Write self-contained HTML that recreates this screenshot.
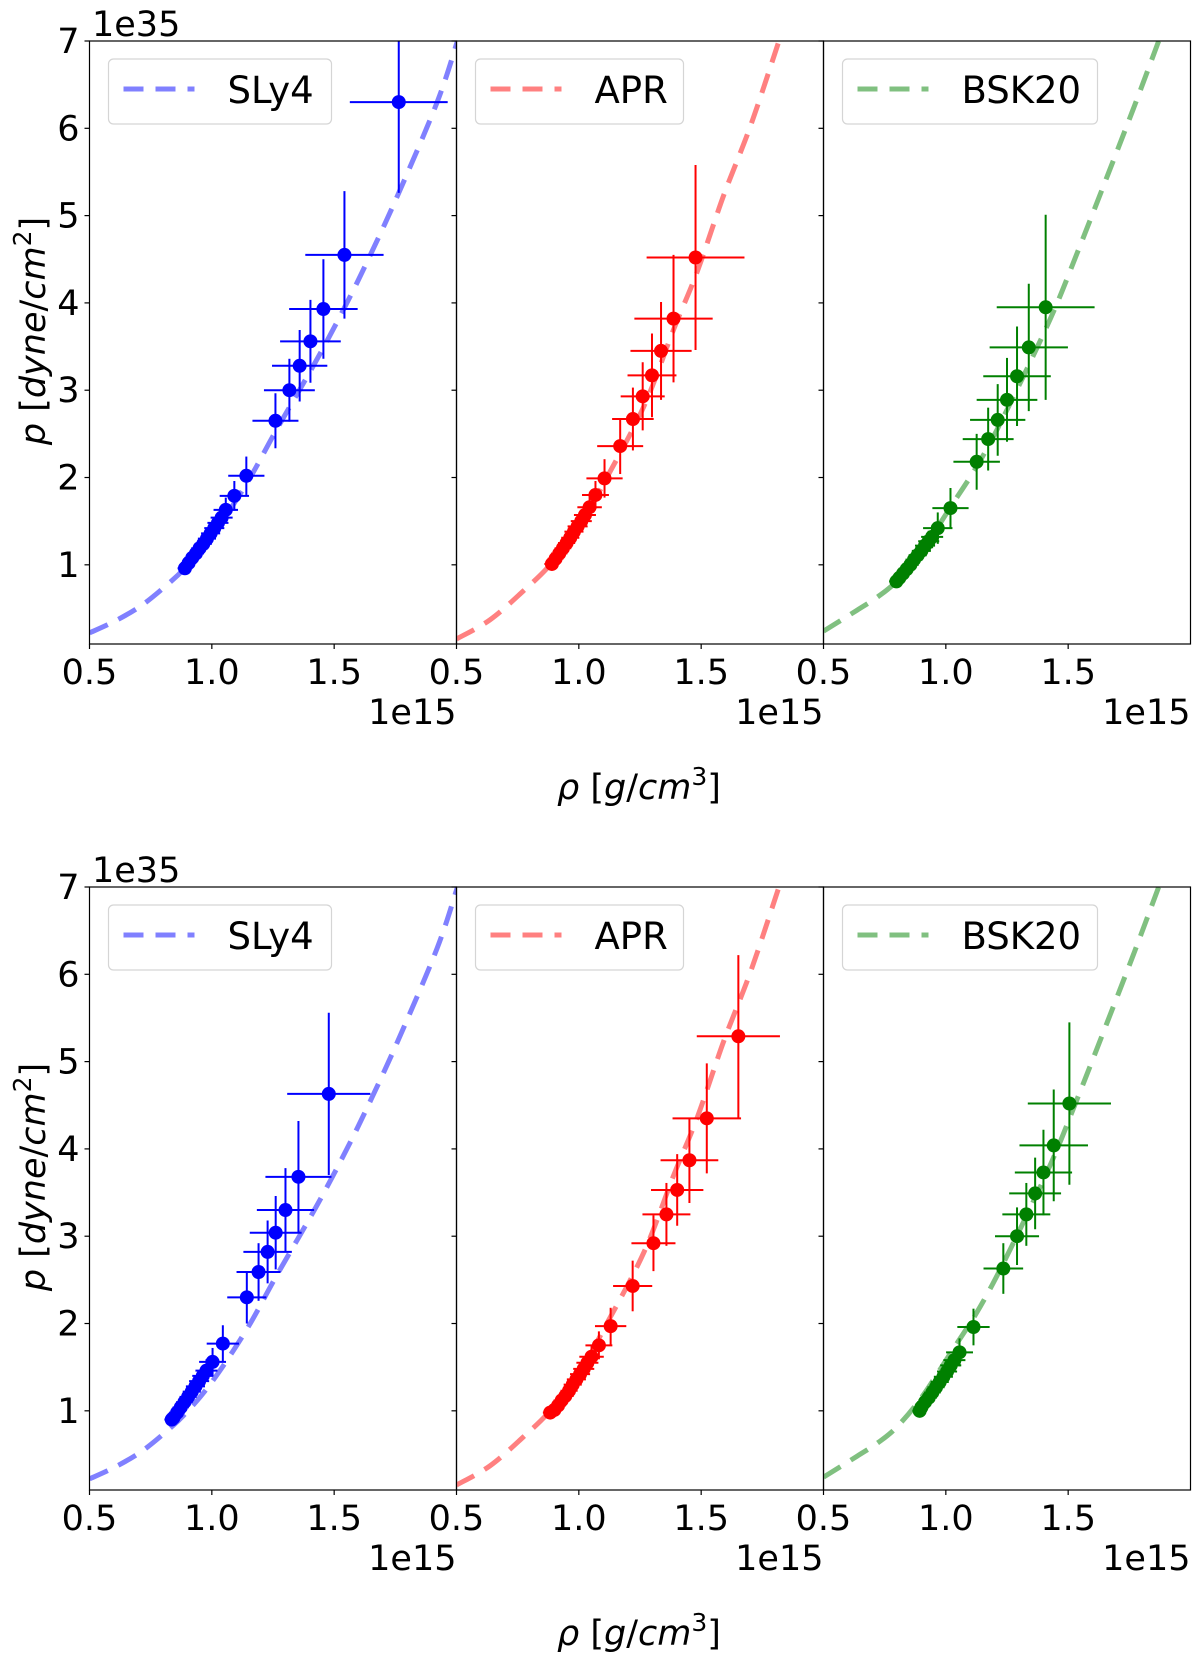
<!DOCTYPE html>
<html><head><meta charset="utf-8"><style>
html,body{margin:0;padding:0;background:#fff;}
svg{display:block;font-family:"DejaVu Sans","Liberation Sans",sans-serif;}
</style></head><body>
<svg id="chart" width="1200" height="1665" viewBox="0 0 1200 1665" xmlns="http://www.w3.org/2000/svg"></svg>
<script>
// ---- data ----
const xTicks = [0.5, 1.0, 1.5];
const xTickLabels = ["0.5", "1.0", "1.5"];
const yTicks = [1, 2, 3, 4, 5, 6, 7];
const yTickLabels = ["1", "2", "3", "4", "5", "6", "7"];
const eosNames = ["SLy4", "APR", "BSK20"];

const sly4CurveRho = [0.5,0.6,0.705,0.8,0.889,1.0,1.142,1.265,1.429,1.552,1.648,1.764,1.921,2.004];
const sly4CurveP   = [0.22,0.35,0.52,0.73,0.96,1.33,1.93,2.55,3.35,4.0,4.55,5.26,6.30,7.0];
const aprCurveRho  = [0.5,0.637,0.773,0.883,1.0,1.101,1.265,1.388,1.484,1.593,1.702,1.818];
const aprCurveP    = [0.15,0.37,0.70,1.0,1.42,1.93,2.81,3.70,4.36,5.24,6.03,7.0];
const bskCurveRho  = [0.5,0.637,0.72,0.798,0.9,1.019,1.142,1.265,1.429,1.538,1.661,1.770,1.870];
const bskCurveP    = [0.24,0.48,0.63,0.81,1.15,1.66,2.2,2.86,3.83,4.58,5.46,6.25,7.0];

const topSlyRho  = [1.764,1.542,1.456,1.403,1.359,1.317,1.260,1.141,1.092,1.057,1.040,1.025,1.010,0.995,0.980,0.965,0.950,0.935,0.920,0.905,0.890];
const topSlyP    = [6.30,4.55,3.93,3.56,3.28,3.00,2.65,2.02,1.79,1.63,1.54,1.48,1.42,1.36,1.30,1.24,1.19,1.13,1.08,1.02,0.96];
const topSlyXerr = [0.20,0.16,0.14,0.124,0.113,0.104,0.094,0.074,0.06,0.05,0.045,0.043,0.041,0.039,0.037,0.035,0.034,0.033,0.032,0.031,0.030];
const topSlyYerr = [1.04,0.73,0.57,0.475,0.41,0.36,0.315,0.22,0.17,0.14,0.13,0.12,0.115,0.11,0.105,0.10,0.095,0.09,0.085,0.08,0.075];

const topAprRho  = [1.477,1.387,1.336,1.299,1.261,1.221,1.169,1.105,1.068,1.044,1.025,1.010,0.995,0.980,0.965,0.950,0.935,0.920,0.905,0.890];
const topAprP    = [4.52,3.82,3.45,3.17,2.93,2.67,2.36,1.99,1.80,1.66,1.57,1.50,1.44,1.38,1.31,1.25,1.19,1.13,1.07,1.01];
const topAprXerr = [0.20,0.16,0.125,0.10,0.09,0.085,0.094,0.074,0.055,0.05,0.045,0.043,0.041,0.039,0.037,0.035,0.034,0.033,0.032,0.031];
const topAprYerr = [1.06,0.73,0.56,0.48,0.39,0.36,0.32,0.22,0.16,0.13,0.12,0.115,0.11,0.105,0.10,0.095,0.09,0.085,0.08,0.075];

const topBskRho  = [1.408,1.339,1.291,1.250,1.212,1.173,1.126,1.019,0.967,0.944,0.930,0.915,0.900,0.885,0.870,0.855,0.840,0.825,0.810,0.798];
const topBskP    = [3.95,3.49,3.16,2.89,2.66,2.44,2.18,1.65,1.42,1.32,1.27,1.22,1.16,1.11,1.06,1.00,0.95,0.90,0.85,0.81];
const topBskXerr = [0.20,0.16,0.138,0.124,0.113,0.104,0.095,0.074,0.06,0.045,0.043,0.041,0.039,0.037,0.035,0.034,0.033,0.032,0.031,0.030];
const topBskYerr = [1.06,0.73,0.57,0.48,0.41,0.36,0.32,0.23,0.18,0.13,0.12,0.115,0.11,0.105,0.10,0.095,0.09,0.085,0.08,0.075];

const botSlyRho  = [1.478,1.354,1.301,1.261,1.228,1.191,1.143,1.045,1.003,0.978,0.963,0.948,0.933,0.918,0.903,0.888,0.873,0.858,0.843,0.836];
const botSlyP    = [4.63,3.68,3.30,3.04,2.82,2.59,2.30,1.77,1.56,1.46,1.40,1.34,1.28,1.22,1.16,1.10,1.04,0.98,0.92,0.90];
const botSlyXerr = [0.17,0.135,0.117,0.106,0.099,0.09,0.08,0.066,0.055,0.045,0.043,0.041,0.039,0.037,0.035,0.034,0.033,0.032,0.031,0.030];
const botSlyYerr = [0.93,0.64,0.48,0.42,0.36,0.33,0.30,0.21,0.16,0.13,0.12,0.115,0.11,0.105,0.10,0.095,0.09,0.085,0.08,0.075];

const botAprRho  = [1.652,1.523,1.452,1.402,1.358,1.305,1.220,1.130,1.082,1.052,1.035,1.020,1.005,0.990,0.975,0.960,0.945,0.930,0.915,0.900,0.883];
const botAprP    = [5.29,4.35,3.87,3.53,3.25,2.92,2.43,1.97,1.75,1.62,1.55,1.48,1.42,1.36,1.30,1.23,1.17,1.12,1.06,1.01,0.98];
const botAprXerr = [0.17,0.14,0.118,0.107,0.098,0.09,0.08,0.064,0.055,0.05,0.045,0.043,0.041,0.039,0.037,0.035,0.034,0.033,0.032,0.031,0.030];
const botAprYerr = [0.93,0.63,0.49,0.41,0.36,0.32,0.29,0.21,0.16,0.14,0.12,0.115,0.11,0.105,0.10,0.095,0.09,0.085,0.08,0.075,0.07];

const botBskRho  = [1.505,1.441,1.399,1.365,1.329,1.291,1.235,1.113,1.056,1.035,1.020,1.005,0.990,0.975,0.960,0.945,0.930,0.915,0.900,0.893];
const botBskP    = [4.52,4.04,3.73,3.49,3.25,3.00,2.63,1.96,1.67,1.58,1.52,1.45,1.39,1.33,1.27,1.21,1.15,1.10,1.04,1.00];
const botBskXerr = [0.17,0.14,0.117,0.106,0.098,0.09,0.081,0.066,0.055,0.045,0.043,0.041,0.039,0.037,0.035,0.034,0.033,0.032,0.031,0.030];
const botBskYerr = [0.93,0.64,0.49,0.41,0.36,0.33,0.29,0.21,0.16,0.13,0.12,0.115,0.11,0.105,0.10,0.095,0.09,0.085,0.08,0.075];

// ---- layout ----
const NS = "http://www.w3.org/2000/svg";
const svg = document.getElementById("chart");
const PANEL_LEFT = [89.5, 456.5, 823.5];
const ROW_TOP = [41, 887];
const PW = 367, PH = 603;
const XMIN = 0.5, XMAX = 2.0, YMIN = 0.093, YMAX = 7;
const curveColors = ["#8080ff", "#ff8080", "#80c080"];
const pointColors = ["#0000ff", "#ff0000", "#008000"];

function mk(tag, attrs, parent) {
  const e = document.createElementNS(NS, tag);
  for (const k in attrs) e.setAttribute(k, attrs[k]);
  (parent || svg).appendChild(e);
  return e;
}
function xScale(col, v) { return PANEL_LEFT[col] + (v - XMIN) / (XMAX - XMIN) * PW; }
function yScale(row, v) { return ROW_TOP[row] + (YMAX - v) / (YMAX - YMIN) * PH; }
function smoothPath(pts) {
  let d = "M" + pts[0][0] + "," + pts[0][1];
  for (let i = 0; i < pts.length - 1; i++) {
    const p0 = pts[i - 1] || pts[i], p1 = pts[i], p2 = pts[i + 1], p3 = pts[i + 2] || p2;
    const c1x = p1[0] + (p2[0] - p0[0]) / 6, c1y = p1[1] + (p2[1] - p0[1]) / 6;
    const c2x = p2[0] - (p3[0] - p1[0]) / 6, c2y = p2[1] - (p3[1] - p1[1]) / 6;
    d += " C" + c1x + "," + c1y + " " + c2x + "," + c2y + " " + p2[0] + "," + p2[1];
  }
  return d;
}

const curves = [[sly4CurveRho, sly4CurveP], [aprCurveRho, aprCurveP], [bskCurveRho, bskCurveP]];
const pointSets = [
  [[topSlyRho, topSlyP, topSlyXerr, topSlyYerr], [topAprRho, topAprP, topAprXerr, topAprYerr], [topBskRho, topBskP, topBskXerr, topBskYerr]],
  [[botSlyRho, botSlyP, botSlyXerr, botSlyYerr], [botAprRho, botAprP, botAprXerr, botAprYerr], [botBskRho, botBskP, botBskXerr, botBskYerr]]
];

const defs = mk("defs", {});
for (let row = 0; row < 2; row++) {
  for (let col = 0; col < 3; col++) {
    const L = PANEL_LEFT[col], T = ROW_TOP[row];
    const cid = "clip" + row + col;
    const cp = mk("clipPath", { id: cid }, defs);
    mk("rect", { x: L, y: T, width: PW, height: PH }, cp);

    const g = mk("g", {});
    
    

    const plot = mk("g", { "clip-path": "url(#" + cid + ")" }, g);
    const cr = curves[col][0], cpv = curves[col][1];
    const pts = cr.map((r, i) => [xScale(col, r), yScale(row, cpv[i])]);
    const path = mk("path", { d: smoothPath(pts), fill: "none", stroke: curveColors[col], "stroke-width": 5, "stroke-dasharray": "20 12" }, plot);
    
    

    const ds = pointSets[row][col];
    for (let i = 0; i < ds[0].length; i++) {
      const cx = xScale(col, ds[0][i]), cy = yScale(row, ds[1][i]);
      const eb = mk("g", { stroke: pointColors[col], "stroke-width": 2 }, plot);
      
      
      mk("line", { x1: xScale(col, ds[0][i] - ds[2][i]), x2: xScale(col, ds[0][i] + ds[2][i]), y1: cy, y2: cy }, eb);
      mk("line", { x1: cx, x2: cx, y1: yScale(row, ds[1][i] - ds[3][i]), y2: yScale(row, ds[1][i] + ds[3][i]) }, eb);
    }
    for (let i = 0; i < ds[0].length; i++) {
      const c = mk("circle", { cx: xScale(col, ds[0][i]), cy: yScale(row, ds[1][i]), r: 7, fill: pointColors[col] }, plot);
      
      
    }

    const fr = mk("rect", { x: L, y: T, width: PW, height: PH, fill: "none", stroke: "#000", "stroke-width": 1.2 }, g);
    
    

    yTicks.forEach((v, i) => {
      const yy = yScale(row, v);
      mk("line", { x1: L - 5, x2: L, y1: yy, y2: yy, stroke: "#000", "stroke-width": 1.2 }, g);
      if (col === 0) {
        const t = mk("text", { x: L - 10, y: yy + 12, "text-anchor": "end", "font-size": 35 }, g);
        t.textContent = yTickLabels[i];
        
        
      }
    });
    xTicks.forEach((v, i) => {
      const xx = xScale(col, v);
      mk("line", { x1: xx, x2: xx, y1: T + PH, y2: T + PH + 5, stroke: "#000", "stroke-width": 1.2 }, g);
      const t = mk("text", { x: xx, y: T + PH + 40, "text-anchor": "middle", "font-size": 35 }, g);
      t.textContent = xTickLabels[i];
      
      
    });
    const off = mk("text", { x: L + PW, y: T + PH + 80, "text-anchor": "end", "font-size": 35 }, g);
    off.textContent = "1e15";
    
    

    const legW = [223, 208, 255][col];
    const lg = mk("g", {}, g);
    
    
    mk("rect", { x: L + 19, y: T + 18, width: legW, height: 65, rx: 5, fill: "#fff", "fill-opacity": 0.8, stroke: "#d5d5d5", "stroke-width": 1.2 }, lg);
    mk("line", { x1: L + 34, x2: L + 105, y1: T + 48, y2: T + 48, stroke: curveColors[col], "stroke-width": 5, "stroke-dasharray": "20 12" }, lg);
    const lt = mk("text", { x: L + 138, y: T + 62, "font-size": 37 }, lg);
    lt.textContent = eosNames[col];
  }
  const ex = mk("text", { x: 92, y: ROW_TOP[row] - 5, "font-size": 35 });
  ex.textContent = "1e35";
  
  

  const xl = mk("text", { x: 639, y: ROW_TOP[row] + PH + 155, "text-anchor": "middle", "font-size": 35 });
  xl.innerHTML = '<tspan font-style="italic">ρ</tspan> [<tspan font-style="italic">g</tspan>/<tspan font-style="italic">cm</tspan><tspan font-size="25" dy="-14">3</tspan><tspan dy="14">]</tspan>';
  
  

  const cy = ROW_TOP[row] + 290;
  const yl = mk("text", { x: 0, y: 0, "text-anchor": "middle", "font-size": 35, transform: "translate(45," + cy + ") rotate(-90)" });
  yl.innerHTML = '<tspan font-style="italic">p</tspan> [<tspan font-style="italic">dyne</tspan>/<tspan font-style="italic">cm</tspan><tspan font-size="25" dy="-14">2</tspan><tspan dy="14">]</tspan>';
  
  
}
</script>
</body></html>
